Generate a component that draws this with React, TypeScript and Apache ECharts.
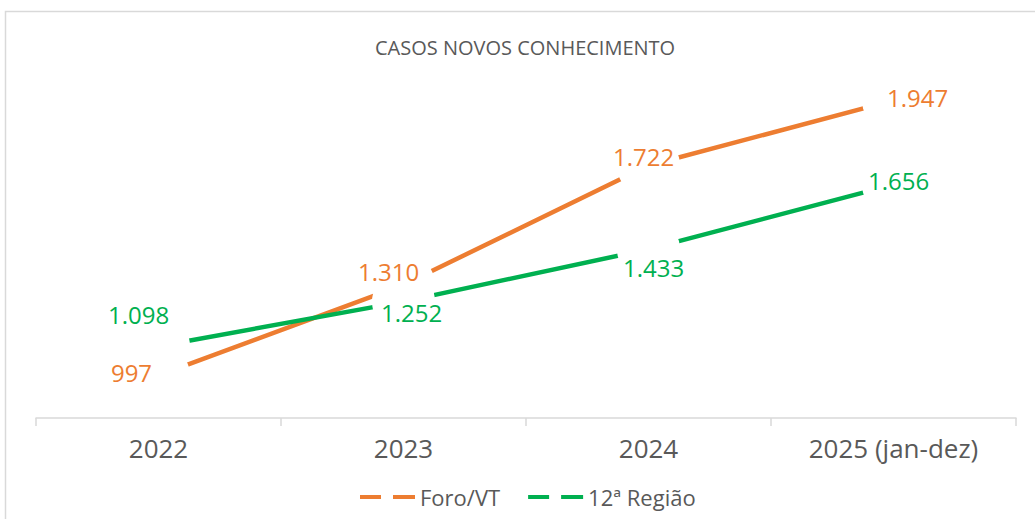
import React, { useEffect, useRef } from "react";
import * as echarts from "echarts";

const categories = ["2022", "2023", "2024", "2025 (jan-dez)"];
const foroVT = [997, 1310, 1722, 1947];
const regiao12 = [1098, 1252, 1433, 1656];
const seriesNames = ["Foro/VT", "12ª Região"];

// label placement (style only)
const foroLabelOffsets = [[-27, -3], [-15, -13], [-5, -9], [24, -3]];
const regiaoLabelOffsets = [[-20, -32], [8, 11], [5, 18], [5, -4]];

const ORANGE = "#ED7D31";
const GREEN = "#00B050";
const GRAY = "#595959";
const FONT = "'Open Sans', 'Noto Sans', sans-serif";

const fmt = (v: number) => String(v).replace(/\B(?=(\d{3})+(?!\d))/g, ".");

export default function App() {
  const ref = useRef<HTMLDivElement>(null);
  useEffect(() => {
    if (!ref.current) return;
    const chart = echarts.init(ref.current, null, { renderer: "svg" });
    const labelSeries = (name: string, vals: number[], offs: number[][], color: string) => ({
      name: name + "-labels",
      type: "scatter",
      z: 5,
      symbolSize: 1,
      itemStyle: { color: "rgba(0,0,0,0)", opacity: 1 },
      silent: true,
      data: vals.map((v, i) => ({
        value: v,
        label: { offset: offs[i] },
      })),
      label: {
        show: true,
        position: "inside",
        color,
        opacity: 1,
        fontSize: 24,
        fontFamily: FONT,
        formatter: (p: any) => fmt(p.value),
      },
      emphasis: { disabled: true },
    });
    const gapSeries = (name: string, vals: number[]) => ({
      name: name + "-gap",
      type: "scatter",
      z: 3,
      symbol: "circle",
      symbolSize: 63,
      silent: true,
      itemStyle: { color: "#ffffff", opacity: 1 },
      emphasis: { disabled: true },
      data: vals,
    });
    chart.setOption({
      animation: false,
      backgroundColor: "#ffffff",
      textStyle: { fontFamily: FONT },
      title: {
        text: "CASOS NOVOS CONHECIMENTO",
        left: 370,
        top: 32,
        textStyle: { fontSize: 20, fontWeight: "normal", color: GRAY, fontFamily: FONT },
      },
      graphic: [
        {
          type: "rect",
          shape: { x: 5.5, y: 11.5, width: 1100, height: 600 },
          style: { fill: "none", stroke: "#d9d9d9", lineWidth: 1.5 },
          silent: true,
          z: -10,
        },
      ],
      legend: {
        data: seriesNames,
        bottom: 6,
        left: 355,
        icon: "path://M0,0H21V4H0Z M33,0H55V4H33Z",
        itemWidth: 55,
        itemHeight: 4,
        itemGap: 28,
        textStyle: { fontSize: 22, color: GRAY, fontFamily: FONT },
      },
      grid: { left: 36, right: 19, top: 85, bottom: 101 },
      xAxis: {
        type: "category",
        data: categories,
        boundaryGap: true,
        axisLine: { lineStyle: { color: "#d9d9d9", width: 1.5 } },
        axisTick: { show: true, length: 8, lineStyle: { color: "#d9d9d9", width: 1.5 } },
        axisLabel: { fontSize: 26, color: GRAY, margin: 17, fontFamily: FONT },
        splitLine: { show: false },
      },
      yAxis: {
        type: "value",
        min: 850,
        max: 2000,
        show: false,
        splitLine: { show: false },
      },
      series: [
        {
          name: seriesNames[0],
          type: "line",
          z: 2,
          data: foroVT,
          symbol: "none",
          itemStyle: { color: ORANGE },
          lineStyle: { color: ORANGE, width: 4.5 },
        },
        {
          name: seriesNames[1],
          type: "line",
          z: 2,
          data: regiao12,
          symbol: "none",
          itemStyle: { color: GREEN },
          lineStyle: { color: GREEN, width: 4.5 },
        },
        gapSeries(seriesNames[0], foroVT),
        gapSeries(seriesNames[1], regiao12),
        labelSeries(seriesNames[0], foroVT, foroLabelOffsets, ORANGE),
        labelSeries(seriesNames[1], regiao12, regiaoLabelOffsets, GREEN),
      ],
    });
    return () => chart.dispose();
  }, []);
  return (
    <div
      ref={ref}
      style={{ position: "fixed", left: 0, top: 0, width: 1035, height: 519, background: "#fff" }}
    />
  );
}
